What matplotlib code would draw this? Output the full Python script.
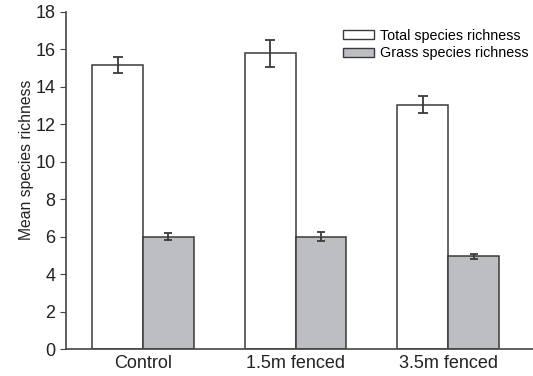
import numpy as np
import matplotlib.pyplot as plt
from matplotlib.patches import Patch

plt.rcParams['font.family'] = ['Liberation Sans', 'DejaVu Sans']

# Data
sites = ['Control', '1.5m fenced', '3.5m fenced']
total_rich = [15.15, 15.8, 13.05]
total_err = [0.43, 0.72, 0.45]
grass_rich = [6.0, 6.0, 4.95]
grass_err = [0.2, 0.25, 0.15]

x = np.arange(len(sites))
w = 0.334

fig = plt.figure(figsize=(5.33, 3.76), dpi=100)
ax = fig.add_axes([66 / 533, 27 / 376, 467 / 533, 337 / 376])

edge = '#3a3a3a'
ax.bar(x - w / 2, total_rich, w, color='white', edgecolor=edge, linewidth=1.1)
ax.bar(x + w / 2, grass_rich, w, color='#bdbec2', edgecolor=edge, linewidth=1.1)
ax.errorbar(x - w / 2, total_rich, yerr=total_err, fmt='none', ecolor='#3a3a3a',
            elinewidth=1.3, capsize=3.5, capthick=1.3)
ax.errorbar(x + w / 2, grass_rich, yerr=grass_err, fmt='none', ecolor='#3a3a3a',
            elinewidth=1.3, capsize=3, capthick=1.3)

ax.set_xlim(-0.505, 2.557)
ax.set_ylim(0, 18)
ax.set_yticks(range(0, 19, 2))
ax.set_xticks(x)
ax.set_xticklabels(sites, fontsize=13, color='#222222')
ax.tick_params(axis='x', length=0, pad=4)
ax.tick_params(axis='y', labelsize=13, labelcolor='#222222', color='#444444',
               length=4.5, pad=3)
ax.set_ylabel('Mean species richness', fontsize=11.3, color='#222222')
ax.yaxis.set_label_coords(-0.069, 0.56)

for s in ['top', 'right']:
    ax.spines[s].set_visible(False)
for s in ['left', 'bottom']:
    ax.spines[s].set_color('#444444')
    ax.spines[s].set_linewidth(1.2)

handles = [Patch(facecolor='white', edgecolor=edge, label='Total species richness'),
           Patch(facecolor='#bdbec2', edgecolor=edge, label='Grass species richness')]
ax.legend(handles=handles, loc='upper left', bbox_to_anchor=(0.593, 0.95),
          frameon=False, fontsize=10.3, handlelength=2.2, handleheight=0.6,
          handletextpad=0.4, labelspacing=0.25, borderaxespad=0, borderpad=0)

plt.savefig('out.png')
